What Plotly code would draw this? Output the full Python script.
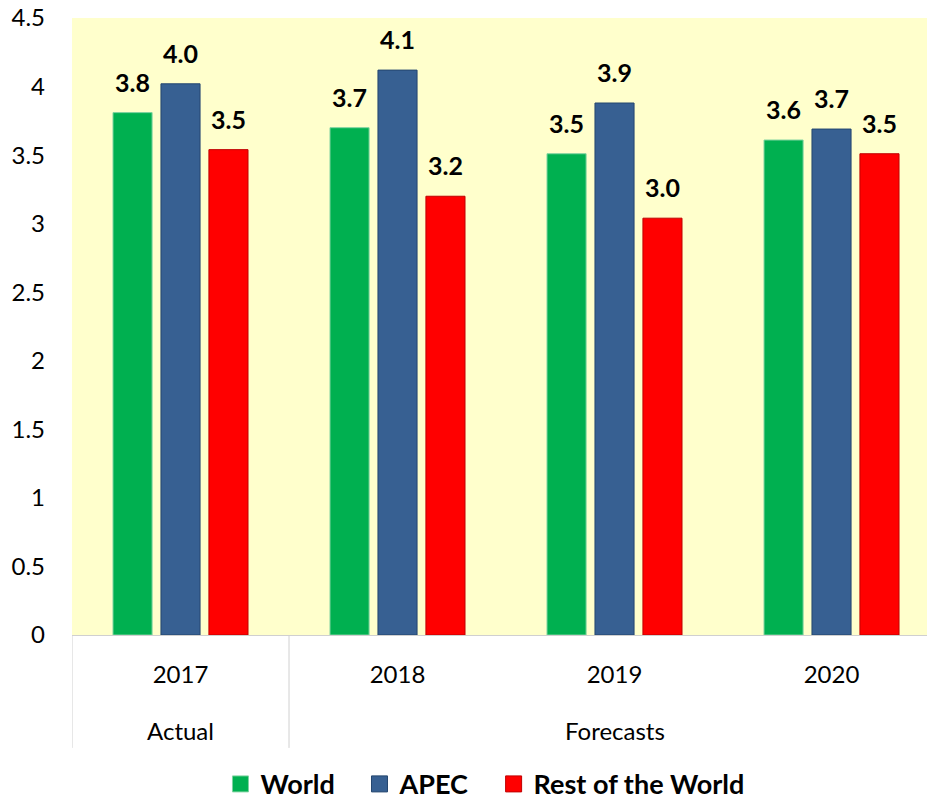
import plotly.graph_objects as go

# Growth rates (%) by region
years = ["2017", "2018", "2019", "2020"]
period_names = ["Actual", "Forecasts"]
period_years = [["2017"], ["2018", "2019", "2020"]]
world = [3.81, 3.70, 3.51, 3.61]
apec = [4.02, 4.12, 3.88, 3.69]
rest_of_world = [3.54, 3.20, 3.04, 3.51]

series = [
    ("World", world, "#00B050", "#7fd3a0"),
    ("APEC", apec, "#376092", "#24466f"),
    ("Rest of the World", rest_of_world, "#FF0000", "#c00000"),
]

FONT = "Lato"
GAP = 0.337
DIVIDER = "#d0d0d0"
NBSP = "\u00a0"

fig = go.Figure()
for name, vals, fill, edge in series:
    fig.add_trace(go.Bar(
        x=years,
        y=vals,
        name=name,
        showlegend=False,
        marker=dict(color=fill, line=dict(color=edge, width=1)),
    ))

# value labels, lifted above each bar by an invisible marker
for name, vals, fill, edge in series:
    fig.add_trace(go.Scatter(
        x=years,
        y=vals,
        mode="markers+text",
        marker=dict(size=22, color="rgba(0,0,0,0)"),
        texttemplate="%{y:.1f}",
        textposition="top center",
        textfont=dict(family=FONT, size=25, color="black", weight="bold"),
        showlegend=False,
        hoverinfo="skip",
        cliponaxis=False,
    ))

# legend entries with larger square swatches (on a hidden axis pair)
for i, (name, vals, fill, edge) in enumerate(series):
    pad = NBSP * 3 if i < len(series) - 1 else ""
    fig.add_trace(go.Scatter(
        x=[None], y=[None],
        xaxis="x2", yaxis="y2",
        mode="markers",
        name=name + pad,
        marker=dict(symbol="square", size=16, color=fill, line=dict(color=edge, width=1)),
        hoverinfo="skip",
    ))

# period labels under the year ticks, with dividers at the period boundaries
year_index = {y: i for i, y in enumerate(years)}
for label, members in zip(period_names, period_years):
    idx = [year_index[y] for y in members]
    centre = (idx[0] + idx[-1]) / 2
    fig.add_annotation(
        x=centre, xref="x",
        y=-0.154, yref="paper",
        text=label, showarrow=False,
        yanchor="middle",
        font=dict(family=FONT, size=24, color="black"),
    )
    fig.add_shape(
        type="line", xref="x", yref="paper",
        x0=idx[0] - 0.5, x1=idx[0] - 0.5, y0=0, y1=-0.183,
        line=dict(color=DIVIDER, width=1),
    )

fig.update_layout(
    width=927,
    height=802,
    barmode="group",
    bargap=GAP,
    bargroupgap=0.185,
    scattermode="group",
    scattergap=GAP,
    paper_bgcolor="white",
    plot_bgcolor="#FFFFCC",
    margin=dict(l=72, r=0, t=18, b=167),
    font=dict(family=FONT, size=24, color="black"),
    showlegend=True,
    legend=dict(
        orientation="h",
        x=0.483, xanchor="center",
        yref="container",
        y=0.022, yanchor="middle",
        font=dict(family=FONT, size=27, color="black", weight="bold"),
        itemsizing="trace",
        itemwidth=30,
        traceorder="normal",
    ),
    xaxis=dict(
        type="category",
        range=[-0.5, 3.44],
        automargin=False,
        showline=True,
        linecolor=DIVIDER,
        linewidth=1,
        ticks="",
        ticklabelstandoff=18,
        tickfont=dict(family=FONT, size=24, color="black"),
        showgrid=False,
    ),
    yaxis=dict(
        range=[0, 4.5],
        dtick=0.5,
        tickformat="~g",
        automargin=False,
        showgrid=False,
        zeroline=False,
        showline=False,
        ticks="",
        ticklabelstandoff=26,
        tickfont=dict(family=FONT, size=24, color="black"),
    ),
    xaxis2=dict(visible=False, overlaying="x", range=[0, 1]),
    yaxis2=dict(visible=False, overlaying="y", range=[0, 1]),
)

fig.write_html("out.html")
